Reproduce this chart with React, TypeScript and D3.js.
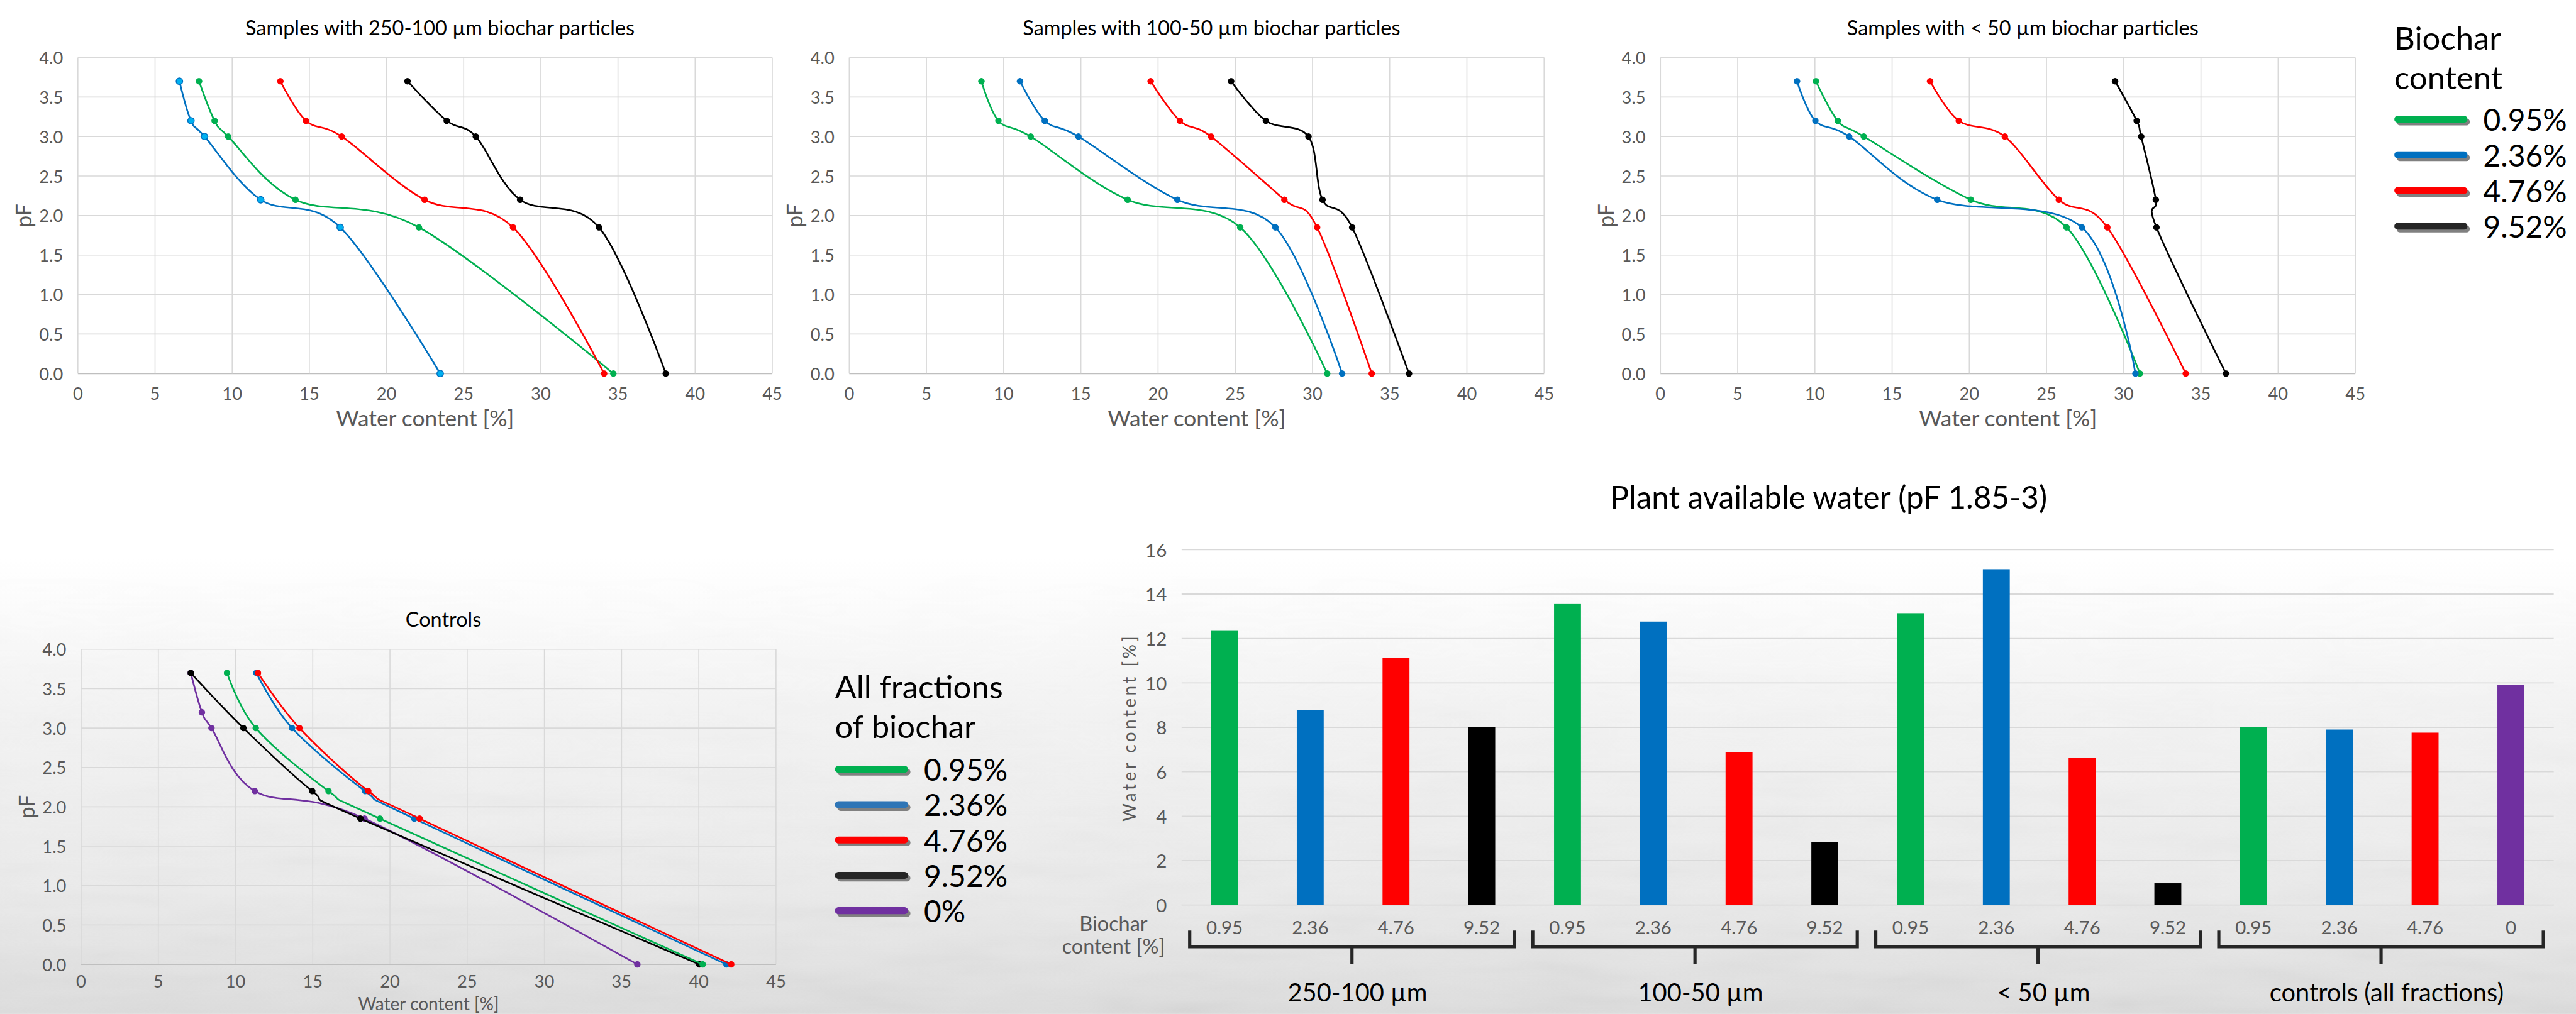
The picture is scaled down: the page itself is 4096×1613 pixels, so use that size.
import React from "react";
import * as d3 from "d3";

// pF levels measured for each sample
const pfLevels = [3.7, 3.2, 3.0, 2.2, 1.85, 0];
const ctrlPfLevels = [3.7, 3.0, 2.2, 1.85, 0];
const ctrlPfPurple = [3.7, 3.2, 3.0, 2.2, 1.85, 0];

const contentLabels = ["0.95%", "2.36%", "4.76%", "9.52%"];
const controlLabels = ["0.95%", "2.36%", "4.76%", "9.52%", "0%"];

// water content [%] per pF level, 250-100 µm
const wc250_095 = [7.85, 8.86, 9.74, 14.1, 22.1, 34.7];
const wc250_236 = [6.58, 7.33, 8.21, 11.85, 17.0, 23.48];
const wc250_476 = [13.12, 14.78, 17.1, 22.47, 28.2, 34.1];
const wc250_952 = [21.36, 23.9, 25.79, 28.66, 33.77, 38.1];

// 100-50 µm
const wc100_095 = [8.56, 9.66, 11.75, 18.03, 25.32, 30.95];
const wc100_236 = [11.06, 12.66, 14.84, 21.25, 27.6, 31.92];
const wc100_476 = [19.52, 21.41, 23.43, 28.18, 30.3, 33.84];
const wc100_952 = [24.73, 26.98, 29.74, 30.65, 32.57, 36.25];

// < 50 µm
const wc50_095 = [10.07, 11.48, 13.17, 20.1, 26.3, 31.05];
const wc50_236 = [8.84, 10.03, 12.22, 17.92, 27.29, 30.76];
const wc50_476 = [17.46, 19.32, 22.3, 25.8, 28.94, 34.02];
const wc50_952 = [29.44, 30.84, 31.13, 32.08, 32.12, 36.62];

// controls
const ctrl_095 = [9.45, 11.31, 16.02, 19.35, 40.25];
const ctrl_236 = [11.35, 13.66, 18.39, 21.57, 41.79];
const ctrl_476 = [11.45, 14.14, 18.6, 21.92, 42.1];
const ctrl_952 = [7.1, 10.51, 14.97, 18.09, 40.03];
const ctrl_0 = [7.1, 7.82, 8.44, 11.25, 18.35, 36.02];

const pfTicks = [0, 0.5, 1, 1.5, 2, 2.5, 3, 3.5, 4];
const wcTicks = [0, 5, 10, 15, 20, 25, 30, 35, 40, 45];

// plant available water bar chart
const barCategories = ["0.95", "2.36", "4.76", "9.52", "0.95", "2.36", "4.76", "9.52", "0.95", "2.36", "4.76", "9.52", "0.95", "2.36", "4.76", "0"];
const barValues = [12.37, 8.78, 11.14, 8.01, 13.55, 12.76, 6.89, 2.84, 13.14, 15.12, 6.63, 0.98, 8.01, 7.9, 7.76, 9.92];
const groupLabels = ["250-100 µm", "100-50 µm", "< 50 µm", "controls (all fractions)"];
const barTicks = [0, 2, 4, 6, 8, 10, 12, 14, 16];

const GREEN = "#00B050";
const BLUE = "#0070C0";
const RED = "#FF0000";
const BLACK = "#000000";
const PURPLE = "#7030A0";
const GRAY = "#595959";
const FONT = "Lato, 'Open Sans', sans-serif";

const barColor: Record<string, string> = { "0.95": GREEN, "2.36": BLUE, "4.76": RED, "9.52": BLACK, "0": PURPLE };

type Series = { x: number[]; y: number[]; color: string; fill?: string };

function LineChart({ left, right, top, bottom, title, series, tickDy = 42, xTitleDy = 95, xTitleSize = 48 }: { left: number; right: number; top: number; bottom: number; title: string; series: Series[]; tickDy?: number; xTitleDy?: number; xTitleSize?: number }) {
  const x = d3.scaleLinear().domain([0, 45]).range([left, right]);
  const y = d3.scaleLinear().domain([0, 4]).range([bottom, top]);
  const line = d3.line<[number, number]>()
    .x(d => x(d[0]))
    .y(d => y(d[1]))
    .curve(d3.curveCardinal.tension(0));
  const cx = (left + right) / 2;
  return (
    <g>
      {pfTicks.map(t => (
        <line key={"h" + t} x1={left} x2={right} y1={y(t)} y2={y(t)} stroke={t === 0 ? "#bfbfbf" : "#d9d9d9"} strokeWidth={t === 0 ? 3 : 2.2} />
      ))}
      {wcTicks.map(t => (
        <line key={"v" + t} x1={x(t)} x2={x(t)} y1={top} y2={bottom} stroke="#d9d9d9" strokeWidth={2.2} />
      ))}
      {pfTicks.map(t => (
        <text key={"yl" + t} x={left - 32} y={y(t)} textAnchor="end" dominantBaseline="central" fontSize={37} fill={GRAY}>{t.toFixed(1)}</text>
      ))}
      {wcTicks.map(t => (
        <text key={"xl" + t} x={x(t)} y={bottom + tickDy} textAnchor="middle" dominantBaseline="central" fontSize={37} fill={GRAY}>{t}</text>
      ))}
      <text x={cx + 32} y={top - 65} textAnchor="middle" dominantBaseline="central" fontSize={44} fill="#000">{title}</text>
      <text x={cx} y={bottom + xTitleDy} textAnchor="middle" dominantBaseline="central" fontSize={xTitleSize} fill={GRAY}>Water content [%]</text>
      <text transform={`translate(${left - 118},${(top + bottom) / 2}) rotate(-90)`} textAnchor="middle" dominantBaseline="central" fontSize={46} fill={GRAY}>pF</text>
      {series.map((s, i) => {
        const pts = s.x.map((v, j) => [v, s.y[j]] as [number, number]);
        return (
          <g key={i}>
            <path d={line(pts) || ""} fill="none" stroke={s.color} strokeWidth={3.6} />
            {pts.map((p, j) => (
              <circle key={j} cx={x(p[0])} cy={y(p[1])} r={7} fill={s.fill || s.color} stroke={s.color} strokeWidth={s.fill ? 2 : 0} />
            ))}
          </g>
        );
      })}
    </g>
  );
}

function Legend({ x, y, heading, labels, colors, step }: { x: number; y: number[]; heading: string[]; labels: string[]; colors: string[]; step: number }) {
  return (
    <g>
      {heading.map((h, i) => (
        <text key={h} x={x} y={y[i]} dominantBaseline="central" fontSize={69} fill="#000">{h}</text>
      ))}
      {labels.map((l, i) => {
        const cy = y[2] + i * step;
        return (
          <g key={l}>
            <rect x={x + 5} y={cy - 7.5 + 6} width={158} height={15} rx={7.5} fill="#808080" />
            <rect x={x} y={cy - 7.5} width={158} height={15} rx={7.5} fill={colors[i]} />
            <text x={x + 192} y={cy} dominantBaseline="central" fontSize={65} fill="#000">{l}</text>
          </g>
        );
      })}
    </g>
  );
}

function BarChart() {
  const left = 2549, right = 5509, top = 1186, bottom = 1953;
  const x = d3.scaleBand<number>().domain(barValues.map((_, i) => i)).range([left, right]).paddingInner(0.686).paddingOuter(0.343);
  const y = d3.scaleLinear().domain([0, 16]).range([bottom, top]);
  const bw = x.bandwidth();
  return (
    <g>
      {barTicks.map(t => (
        <line key={"g" + t} x1={left} x2={right} y1={y(t)} y2={y(t)} stroke="#d9d9d9" strokeWidth={2.5} />
      ))}
      {barTicks.map(t => (
        <text key={"t" + t} x={left - 32} y={y(t)} textAnchor="end" dominantBaseline="central" fontSize={40} fill={GRAY}>{t}</text>
      ))}
      <text transform={`translate(2435,1570) rotate(-90)`} textAnchor="middle" dominantBaseline="central" fontSize={38} letterSpacing={6} fill={GRAY}>Water content [%]</text>
      <text x={3945} y={1072} textAnchor="middle" dominantBaseline="central" fontSize={67} fill="#000">Plant available water (pF 1.85-3)</text>
      {barValues.map((v, i) => (
        <rect key={i} x={x(i)} y={y(v)} width={bw} height={bottom - y(v)} fill={barColor[barCategories[i]]} />
      ))}
      {barCategories.map((c, i) => (
        <text key={"c" + i} x={(x(i) || 0) + bw / 2} y={2000} textAnchor="middle" dominantBaseline="central" fontSize={40} fill={GRAY}>{c}</text>
      ))}
      <text x={2402} y={1992} textAnchor="middle" dominantBaseline="central" fontSize={44} fill={GRAY}>Biochar</text>
      <text x={2402} y={2041} textAnchor="middle" dominantBaseline="central" fontSize={44} fill={GRAY}>content [%]</text>
      {groupLabels.map((g, k) => {
        const l = (x(k * 4) || 0) - 46;
        const r = (x(k * 4 + 3) || 0) + bw + 41;
        const m = (l + r) / 2;
        return (
          <g key={g}>
            <path d={`M${l},2008 V2043 H${r} V2008`} fill="none" stroke="#262626" strokeWidth={7} />
            <path d={`M${m},2043 V2080`} fill="none" stroke="#262626" strokeWidth={7} />
            <text x={m + 12} y={2140} textAnchor="middle" dominantBaseline="central" fontSize={54} fill="#000">{g}</text>
          </g>
        );
      })}
    </g>
  );
}

export default function App() {
  const topCharts = [
    { left: 168, right: 1666, title: "Samples with 250-100 µm biochar particles", data: [wc250_095, wc250_236, wc250_476, wc250_952] },
    { left: 1832, right: 3331, title: "Samples with 100-50 µm biochar particles", data: [wc100_095, wc100_236, wc100_476, wc100_952] },
    { left: 3582, right: 5081, title: "Samples with < 50 µm biochar particles", data: [wc50_095, wc50_236, wc50_476, wc50_952] },
  ];
  const colors = [GREEN, BLUE, RED, BLACK];
  const ctrlSeries: Series[] = [
    { x: ctrl_0, y: ctrlPfPurple, color: PURPLE },
    { x: ctrl_952, y: ctrlPfLevels, color: BLACK },
    { x: ctrl_095, y: ctrlPfLevels, color: GREEN },
    { x: ctrl_236, y: ctrlPfLevels, color: BLUE },
    { x: ctrl_476, y: ctrlPfLevels, color: RED },
  ];
  return (
    <>
      <style>{`body{margin:0;overflow:hidden}`}</style>
      <svg width={4096} height={1613} viewBox="0 0 5557 2188" style={{ display: "block" }} fontFamily={FONT}>
        <defs>
          <linearGradient id="bg" x1="0" y1="0" x2="0" y2="2188" gradientUnits="userSpaceOnUse">
            <stop offset="0" stopColor="#ffffff" />
            <stop offset="0.55" stopColor="#ffffff" />
            <stop offset="0.7" stopColor="#f3f3f3" />
            <stop offset="0.88" stopColor="#ebebeb" />
            <stop offset="1" stopColor="#dedede" />
          </linearGradient>
          <filter id="grain" x="0" y="0" width="100%" height="100%">
            <feTurbulence type="fractalNoise" baseFrequency="0.004 0.02" numOctaves={3} seed={4} />
            <feColorMatrix type="saturate" values="0" />
          </filter>
          <linearGradient id="fade" x1="0" y1="1200" x2="0" y2="2188" gradientUnits="userSpaceOnUse">
            <stop offset="0" stopColor="#fff" stopOpacity={0} />
            <stop offset="1" stopColor="#fff" stopOpacity={1} />
          </linearGradient>
          <mask id="grainMask">
            <rect x={0} y={1200} width={5557} height={988} fill="url(#fade)" />
          </mask>
        </defs>
        <rect x={0} y={0} width={5557} height={2188} fill="url(#bg)" />
        <rect x={0} y={1200} width={5557} height={988} filter="url(#grain)" opacity={0.13} mask="url(#grainMask)" />
        {topCharts.map((c, k) => (
          <LineChart
            key={k}
            left={c.left}
            right={c.right}
            top={124}
            bottom={806}
            title={c.title}
            series={c.data.map((d, i) => ({ x: d, y: pfLevels, color: colors[i], fill: k === 0 && i === 1 ? "#00B0F0" : undefined }))}
          />
        ))}
        <Legend x={5165} y={[81, 166, 257]} heading={["Biochar", "content"]} labels={contentLabels} colors={[GREEN, BLUE, RED, "#262626"]} step={77} />
        <LineChart left={175} right={1674} top={1401} bottom={2081} title="Controls" series={ctrlSeries} tickDy={36} xTitleDy={84} xTitleSize={38} />
        <Legend x={1801} y={[1480, 1566, 1660]} heading={["All fractions", "of biochar"]} labels={controlLabels} colors={[GREEN, "#2E75B6", RED, "#262626", PURPLE]} step={76.3} />
        <BarChart />
      </svg>
    </>
  );
}
